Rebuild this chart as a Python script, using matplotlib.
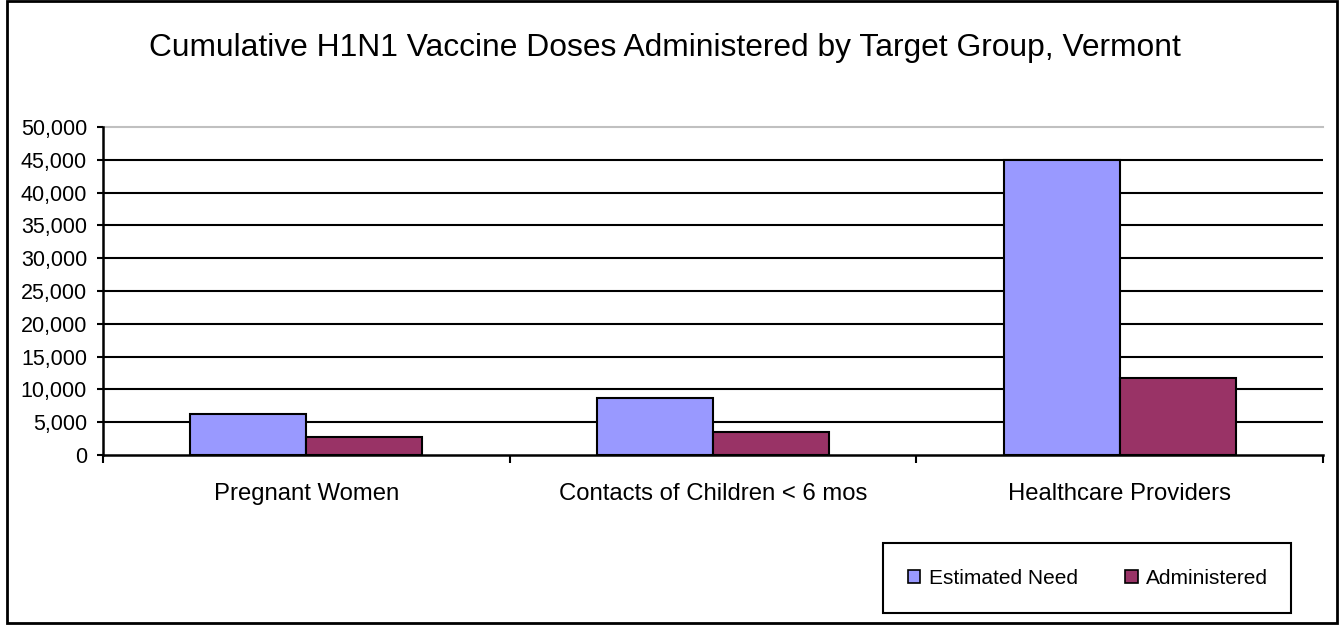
import matplotlib
matplotlib.use("Agg")
import matplotlib.pyplot as plt
from matplotlib.patches import Rectangle, Patch
from matplotlib.ticker import FuncFormatter
import numpy as np

plt.rcParams['font.family'] = ['Liberation Sans', 'DejaVu Sans']

categories = ["Pregnant Women", "Contacts of Children < 6 mos", "Healthcare Providers"]
estimated_need = [6250, 8700, 45000]
administered = [2700, 3550, 11800]
series_names = ["Estimated Need", "Administered"]
title = "Cumulative H1N1 Vaccine Doses Administered by Target Group, Vermont"

W, H = 1343, 625
fig = plt.figure(figsize=(W / 100, H / 100), dpi=100)

ax = fig.add_axes([103 / W, 1 - 455 / H, (1323 - 103) / W, (455 - 127) / H])

x = np.arange(len(categories))
bw = 0.285
ax.bar(x - bw / 2, estimated_need, bw, color="#9999FF", edgecolor="black", linewidth=1.5, zorder=3)
ax.bar(x + bw / 2, administered, bw, color="#993366", edgecolor="black", linewidth=1.5, zorder=3)

ax.set_xlim(-0.5, len(categories) - 0.5)
ax.set_ylim(0, 50000)
yt = np.arange(0, 50001, 5000)
ax.set_yticks(yt)
ax.yaxis.set_major_formatter(FuncFormatter(lambda v, p: f"{int(v):,}"))
for v in yt[1:-1]:
    ax.axhline(v, color="black", linewidth=1.5, zorder=1)
ax.axhline(50000, color="#C0C0C0", linewidth=1.5, zorder=1, clip_on=False)

ax.set_xticks(np.arange(-0.5, len(categories), 1.0))
ax.set_xticklabels([])
ax.set_xticks(x, minor=True)
ax.set_xticklabels(categories, minor=True, fontsize=17.2)
ax.tick_params(axis="x", which="major", direction="out", length=6, width=1.5)
ax.tick_params(axis="x", which="minor", length=0, pad=20)
ax.tick_params(axis="y", direction="out", length=4.5, width=1.5, labelsize=15.5, pad=7)

for s in ["top", "right"]:
    ax.spines[s].set_visible(False)
ax.spines["left"].set_linewidth(1.8)
ax.spines["bottom"].set_linewidth(1.8)

fig.text(665 / W, 1 - 48 / H, title, ha="center", va="center", fontsize=22.9)

# Figure border
fig.patches.append(Rectangle((7 / W, 1 - 623 / H), (1337 - 7) / W, (623 - 1) / H,
                             transform=fig.transFigure, fill=False, ec="black", lw=2))
# Legend box
fig.patches.append(Rectangle((883 / W, 1 - 613 / H), (1291 - 883) / W, (613 - 543) / H,
                             transform=fig.transFigure, fill=False, ec="black", lw=1.5))
handles = [Patch(facecolor="#9999FF", edgecolor="black", lw=1.2),
           Patch(facecolor="#993366", edgecolor="black", lw=1.2)]
fig.legend(handles, series_names, loc="center", bbox_to_anchor=(1088 / W, 1 - 578 / H),
           ncol=2, frameon=False, fontsize=15, handlelength=0.6, handleheight=0.6,
           handletextpad=0.4, columnspacing=2.3)

fig.savefig("out.png", dpi=100)
